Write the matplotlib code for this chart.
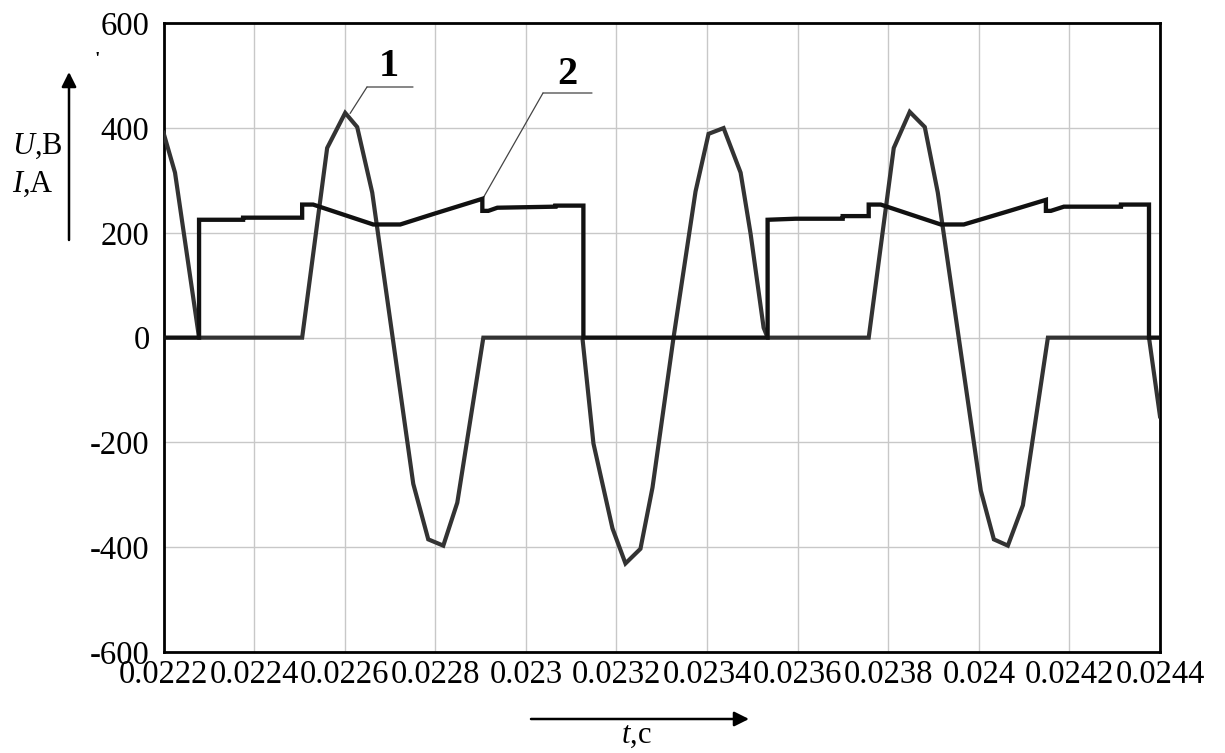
import matplotlib
matplotlib.use("Agg")
import matplotlib.pyplot as plt

# ===============================
# data
# ===============================
# curve 1 - voltage U, V
t_u = [0.022200, 0.0222254, 0.0222785, 0.0225061, 0.0225613, 0.0226011, 0.0226276,
       0.0226608, 0.0227514, 0.0227845, 0.0228177, 0.0228486, 0.0229061, 0.0231248,
       0.0231492, 0.0231912, 0.0232199, 0.0232530, 0.0232796, 0.0233260, 0.0233746,
       0.0234033, 0.0234365, 0.0234741, 0.0234962, 0.0235249, 0.0235337, 0.0237569,
       0.0238122, 0.0238475, 0.0238807, 0.0239094, 0.0240044, 0.0240332, 0.0240641,
       0.0240973, 0.0241525, 0.0243757, 0.0244000]
u_vals = [391, 315, 0, 0, 362, 429, 402,
          277, -279, -385, -397, -315, 0, 0,
          -202, -364, -431, -403, -286, 0, 279,
          389, 400, 315, 198, 19, 0, 0,
          362, 431, 402, 277, -292, -385, -397,
          -320, 0, 0, -150]

# curve 2 - current I, A
t_i = [0.022200, 0.0222785, 0.0222785, 0.0223757, 0.0223757, 0.0225061, 0.0225061,
       0.0225304, 0.0226630, 0.0227227, 0.0227956, 0.0229039, 0.0229039, 0.0229171,
       0.0229370, 0.0230652, 0.0230652, 0.0231270, 0.0231270, 0.0235337, 0.0235337,
       0.0235956, 0.0236994, 0.0236994, 0.0237569, 0.0237569, 0.0237834, 0.0239160,
       0.0239669, 0.0240641, 0.0241481, 0.0241481, 0.0241591, 0.0241878, 0.0243138,
       0.0243138, 0.0243757, 0.0243757, 0.0244000]
i_vals = [0, 0, 225, 225, 229, 229, 254,
          254, 216, 216, 236, 265, 242, 242,
          248, 250, 252, 252, 0, 0, 225,
          227, 227, 232, 232, 254, 254, 216,
          216, 241, 263, 242, 242, 250, 250,
          254, 254, 0, 0]

x_ticks = [0.0222, 0.0224, 0.0226, 0.0228, 0.0230, 0.0232,
           0.0234, 0.0236, 0.0238, 0.0240, 0.0242, 0.0244]
x_labels = ["0.0222", "0.0224", "0.0226", "0.0228", "0.023", "0.0232",
            "0.0234", "0.0236", "0.0238", "0.024", "0.0242", "0.0244"]
y_ticks = [600, 400, 200, 0, -200, -400, -600]
y_labels = ["600", "400", "200", "0", "-200", "-400", "-600"]

# ===============================
# style
# ===============================
plt.rcParams["font.family"] = ["Liberation Serif", "DejaVu Serif"]
plt.rcParams["mathtext.fontset"] = "custom"
plt.rcParams["mathtext.rm"] = "Liberation Serif"
plt.rcParams["mathtext.it"] = "Liberation Serif:italic"

W, H = 1225, 753
fig = plt.figure(figsize=(W / 100, H / 100), dpi=100)
ax = fig.add_axes([163.5 / W, 1 - 652 / H, (1160 - 163.5) / W, (652 - 23.3) / H])

ax.plot(t_u, u_vals, color="#333333", lw=3.0, solid_joinstyle="miter", zorder=3)
ax.plot(t_i, i_vals, color="#111111", lw=3.1, solid_joinstyle="miter", zorder=4)

ax.set_xlim(0.0222, 0.0244)
ax.set_ylim(-600, 600)
ax.set_xticks(x_ticks)
ax.set_xticklabels(x_labels)
ax.set_yticks(y_ticks)
ax.set_yticklabels(y_labels)
ax.tick_params(length=0, labelsize=23.5)
ax.tick_params(axis="y", pad=10)
ax.tick_params(axis="x", pad=5.5)
ax.grid(True, color="#c8c8c8", lw=1.0)
for s in ax.spines.values():
    s.set_linewidth(2.0)
    s.set_color("black")

# ===============================
# curve labels 1 and 2
# ===============================
def px(x, y):
    return (x, H - y)

line_kw = dict(arrowstyle="-", color="#444444", lw=0.9, shrinkA=0, shrinkB=0)
ax.annotate("", xy=(0.022612, 428), xycoords="data",
            xytext=px(367, 87), textcoords="figure pixels", arrowprops=line_kw)
ax.annotate("", xy=(0.022906, 267), xycoords="data",
            xytext=px(543, 93), textcoords="figure pixels", arrowprops=line_kw)
ax.annotate("", xy=px(413, 87), xycoords="figure pixels",
            xytext=px(367, 87), textcoords="figure pixels", arrowprops=line_kw)
ax.annotate("", xy=px(592, 93), xycoords="figure pixels",
            xytext=px(543, 93), textcoords="figure pixels", arrowprops=line_kw)
fig.text(389 / W, 1 - 67 / H, "1", fontsize=29, fontweight="bold",
         ha="center", va="center")
fig.text(567 / W, 1 - 74 / H, "2", fontsize=29, fontweight="bold",
         ha="center", va="center")

# ===============================
# axis names with arrows
# ===============================
fig.text(12 / W, 1 - 146 / H, r"$U$,B", fontsize=22, ha="left", va="center")
fig.text(12 / W, 1 - 184 / H, r"$I$,A", fontsize=22, ha="left", va="center")
fig.text(636 / W, 1 - 736 / H, r"$t$,c", fontsize=22, ha="center", va="center")
fig.text(97 / W, 1 - 60 / H, "'", fontsize=14, fontweight="bold",
         ha="center", va="center")

ax.annotate("", xy=(69 / W, 1 - 72 / H), xycoords="figure fraction",
            xytext=(69 / W, 1 - 240 / H), textcoords="figure fraction",
            arrowprops=dict(arrowstyle="-|>", color="black", lw=1.8,
                            mutation_scale=22, shrinkA=0, shrinkB=0),
            annotation_clip=False)
ax.annotate("", xy=(749 / W, 1 - 719 / H), xycoords="figure fraction",
            xytext=(531 / W, 1 - 719 / H), textcoords="figure fraction",
            arrowprops=dict(arrowstyle="-|>", color="black", lw=1.8,
                            mutation_scale=22, shrinkA=0, shrinkB=0),
            annotation_clip=False)

fig.savefig("out.png", dpi=100)
plt.close(fig)
